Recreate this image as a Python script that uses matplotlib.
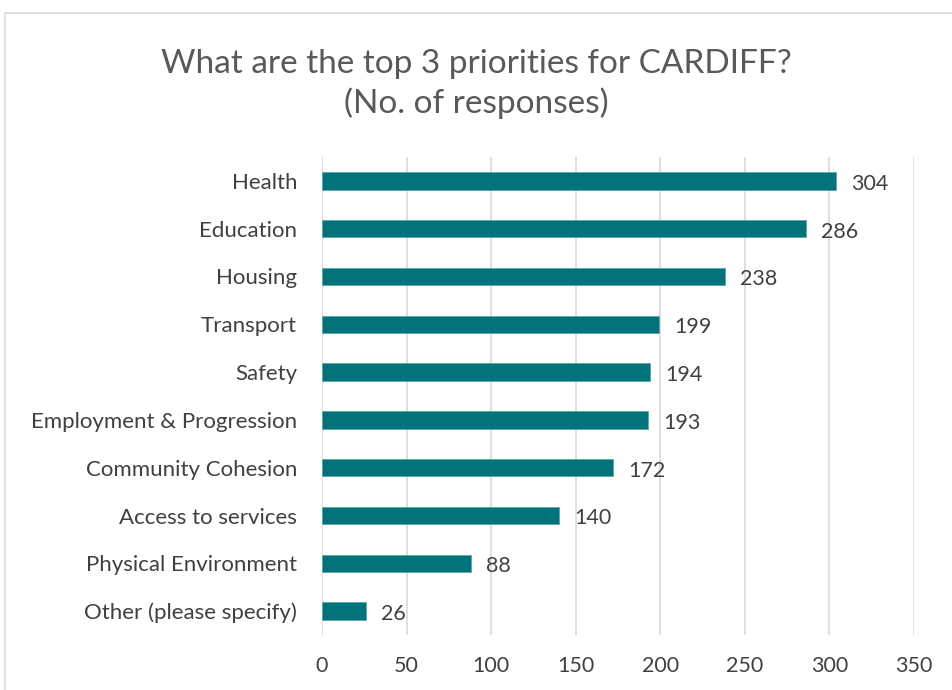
import matplotlib.pyplot as plt
from matplotlib.patches import Rectangle

categories = ['Health', 'Education', 'Housing', 'Transport', 'Safety',
              'Employment & Progression', 'Community Cohesion',
              'Access to services', 'Physical Environment', 'Other (please specify)']
responses = [304, 286, 238, 199, 194, 193, 172, 140, 88, 26]
xticks = [0, 50, 100, 150, 200, 250, 300, 350]

plt.rcParams['font.family'] = ['Lato', 'DejaVu Sans']

fig = plt.figure(figsize=(9.52, 6.9), dpi=100)
ax = fig.add_axes([322 / 952, 1 - 635 / 690, (914 - 322) / 952, (635 - 157) / 690])

# chart frame like the excel one
fig.patches.append(Rectangle((5 / 952, -0.05), 1.0, 1 - 13 / 690 + 0.05,
                             transform=fig.transFigure, fill=False,
                             edgecolor='#d9d9d9', linewidth=1.2))

ypos = list(range(len(categories)))
bars = ax.barh(ypos, responses, height=0.36, color='#00747a',
               edgecolor='#5fa3a7', linewidth=0.6, zorder=3)
for b, v in zip(bars, responses):
    ax.text(b.get_width() + 9, b.get_y() + b.get_height() / 2 + 0.06, str(v),
            va='center', ha='left', fontsize=15.5, color='#404040')

ax.set_ylim(len(categories) - 0.5, -0.5)
ax.set_xlim(0, 350)
ax.set_xticks(xticks)
ax.set_yticks(ypos)
ax.set_yticklabels(categories)
ax.tick_params(axis='y', length=0, labelsize=16, labelcolor='#404040', pad=18)
ax.tick_params(axis='x', length=0, labelsize=15.5, labelcolor='#404040', pad=15)
ax.grid(axis='x', color='#d9d9d9', linewidth=1.2, zorder=0)
for s in ax.spines.values():
    s.set_visible(False)

fig.text(0.5, 1 - 84 / 690, 'What are the top 3 priorities for CARDIFF?\n(No. of responses)',
         ha='center', va='center', fontsize=24, color='#595959', linespacing=1.3)

fig.savefig('out.png', dpi=100)
